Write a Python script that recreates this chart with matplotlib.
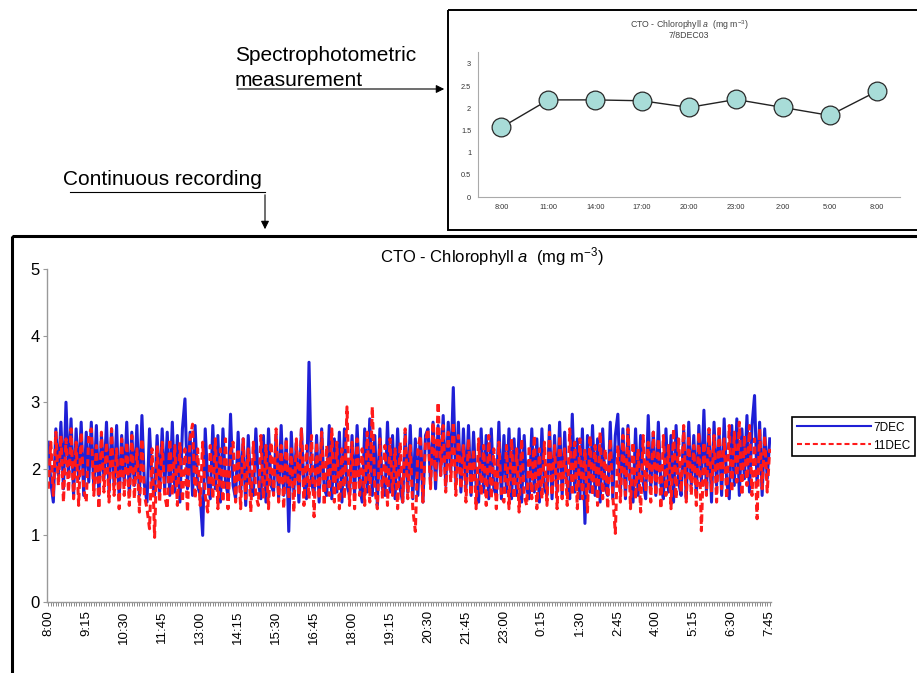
import numpy as np
import matplotlib
matplotlib.use('Agg')
import matplotlib.pyplot as plt
from matplotlib.patches import Rectangle

plt.rcParams['font.family'] = ['Liberation Sans', 'DejaVu Sans']
plt.rcParams['mathtext.fontset'] = 'custom'
plt.rcParams['mathtext.rm'] = 'Liberation Sans'
plt.rcParams['mathtext.it'] = 'Liberation Sans:italic'

# continuous recording, one value every 5 min from 8:00 to 7:45
chl_7dec = [
    2.4, 1.8, 1.5, 2.6, 1.9, 2.7, 1.7, 3.0, 1.9, 2.75, 1.6, 2.6, 1.85, 2.7, 1.6,
    2.55, 1.8, 2.7, 1.7, 2.65, 1.6, 2.5, 1.85, 2.7, 1.65, 2.6, 1.75, 2.65, 1.55, 2.5,
    1.8, 2.7, 1.6, 2.55, 1.75, 2.65, 1.6, 2.8, 1.75, 1.5, 2.6, 1.8, 1.6, 2.5, 1.65,
    2.6, 1.7, 2.55, 1.6, 2.7, 1.65, 2.5, 1.5, 2.6, 3.05, 1.7, 2.55, 1.6, 2.65, 1.75,
    1.6, 1.0, 2.6, 1.8, 1.55, 2.65, 1.7, 2.5, 1.5, 2.6, 1.8, 1.6, 2.82, 1.75, 1.55,
    2.55, 1.65, 2.45, 1.45, 2.5, 1.7, 1.6, 2.6, 1.8, 1.55, 2.5, 1.5, 2.6, 1.75, 1.65,
    2.5, 1.55, 2.65, 1.6, 2.45, 1.06, 2.55, 1.65, 2.4, 1.5, 2.6, 1.75, 1.55, 3.6, 1.8,
    1.6, 2.5, 1.5, 2.6, 1.7, 1.6, 2.65, 1.55, 2.45, 1.65, 2.55, 1.5, 2.6, 1.75, 1.6,
    2.5, 1.6, 2.65, 1.75, 1.5, 2.6, 1.65, 2.75, 1.6, 2.5, 1.45, 2.6, 1.7, 1.6, 2.7,
    1.65, 2.5, 1.55, 2.6, 1.7, 1.5, 2.55, 1.65, 2.65, 1.55, 2.45, 1.6, 2.6, 1.5, 2.5,
    2.6, 1.8, 2.7, 1.7, 2.65, 1.9, 2.8, 1.75, 2.7, 1.95, 3.22, 1.8, 2.7, 1.65, 2.6,
    1.7, 2.65, 1.6, 2.55, 1.75, 1.5, 2.6, 1.65, 2.5, 1.55, 2.6, 1.7, 1.6, 2.7, 1.55,
    2.5, 1.65, 2.6, 1.55, 2.45, 1.6, 2.6, 1.5, 2.5, 1.7, 1.55, 2.6, 1.65, 2.45, 1.5,
    2.6, 1.7, 1.6, 2.65, 1.55, 2.5, 1.65, 2.7, 1.6, 2.55, 1.75, 1.55, 2.82, 1.65, 2.45,
    1.55, 2.6, 1.18, 2.5, 1.65, 2.65, 1.6, 2.45, 1.5, 2.6, 1.7, 1.6, 2.7, 1.55, 2.5,
    2.82, 1.65, 2.6, 1.55, 2.65, 1.75, 1.5, 2.6, 1.6, 2.5, 1.8, 1.55, 2.8, 1.7, 2.55,
    1.6, 2.7, 1.75, 1.55, 2.6, 1.65, 2.5, 1.5, 2.65, 1.8, 1.6, 2.6, 1.55, 2.7, 1.75,
    2.5, 1.6, 2.65, 1.8, 2.88, 1.65, 2.6, 1.5, 2.7, 1.75, 2.55, 1.6, 2.75, 1.8, 1.55,
    2.65, 1.75, 2.75, 1.6, 2.6, 1.85, 2.8, 1.65, 2.65, 3.1, 1.75, 2.7, 1.6, 2.6, 1.85,
    2.45,
]
chl_11dec = [
    1.7, 2.4, 1.6, 2.55, 1.75, 2.5, 1.5, 2.45, 1.65, 2.6, 1.55, 2.4, 1.45, 2.55, 1.7,
    1.5, 2.5, 2.6, 1.6, 2.35, 1.4, 2.55, 1.65, 2.4, 1.5, 2.6, 1.6, 2.3, 1.4, 2.45,
    1.6, 2.4, 1.45, 2.5, 1.55, 2.3, 1.35, 2.45, 1.6, 1.4, 1.1, 2.3, 0.97, 2.35, 1.5,
    2.4, 1.6, 1.4, 2.45, 1.6, 2.35, 1.45, 2.4, 1.5, 2.3, 1.35, 2.45, 2.67, 1.55, 2.3,
    1.45, 2.4, 1.6, 1.35, 2.35, 1.55, 2.45, 1.4, 2.3, 1.5, 2.45, 1.4, 2.25, 2.4, 1.5,
    2.3, 1.4, 2.45, 1.55, 2.3, 1.35, 2.4, 1.6, 1.45, 2.5, 1.55, 2.35, 1.4, 2.4, 1.6,
    2.6, 1.5, 2.35, 1.4, 2.45, 1.55, 2.3, 1.35, 2.45, 1.6, 2.6, 1.45, 2.35, 1.55, 2.5,
    1.28, 2.4, 1.55, 2.55, 1.45, 2.35, 1.6, 2.6, 1.5, 2.4, 1.4, 2.3, 1.55, 2.93, 1.45,
    2.4, 1.4, 2.45, 1.6, 2.3, 1.45, 2.55, 1.5, 2.93, 1.7, 1.4, 2.45, 1.55, 2.35, 1.45,
    2.45, 1.6, 2.3, 1.4, 2.4, 1.5, 2.6, 1.55, 2.35, 1.4, 1.06, 2.3, 2.5, 1.5, 2.4,
    2.6, 1.7, 2.7, 1.8, 3.0, 1.9, 2.65, 1.65, 2.55, 1.8, 2.7, 1.6, 2.5, 1.7, 2.35,
    1.5, 2.45, 1.6, 2.3, 1.4, 2.45, 1.6, 2.35, 1.45, 2.5, 1.55, 2.3, 1.4, 2.4, 1.6,
    1.5, 2.35, 1.4, 2.45, 1.55, 2.3, 1.35, 2.45, 1.6, 1.45, 2.35, 1.55, 2.5, 1.4, 2.3,
    1.55, 2.4, 1.45, 2.55, 1.6, 2.35, 1.4, 2.5, 1.55, 2.3, 1.45, 2.6, 1.6, 2.4, 1.4,
    2.45, 1.55, 2.3, 1.35, 2.5, 1.6, 2.35, 1.45, 2.55, 1.55, 2.3, 1.4, 2.45, 1.6, 1.03,
    2.35, 1.5, 2.5, 1.6, 2.6, 1.4, 2.4, 1.55, 2.3, 1.35, 2.5, 1.65, 2.4, 1.5, 2.55,
    1.6, 2.45, 1.4, 2.5, 1.6, 2.35, 1.4, 2.6, 1.55, 2.45, 1.65, 2.65, 1.5, 2.5, 1.6,
    2.35, 1.45, 2.55, 1.07, 2.4, 1.6, 2.6, 1.65, 2.5, 1.5, 2.65, 1.7, 2.45, 1.55, 2.65,
    1.65, 2.55, 1.8, 2.7, 1.6, 2.5, 1.75, 2.65, 1.6, 2.45, 1.25, 2.6, 1.7, 2.5, 1.65,
    2.3,
]
time_labels = ['8:00', '9:15', '10:30', '11:45', '13:00', '14:15', '15:30', '16:45',
               '18:00', '19:15', '20:30', '21:45', '23:00', '0:15', '1:30', '2:45',
               '4:00', '5:15', '6:30', '7:45']
label_step = 15

# spectrophotometric samples 7/8 DEC 03
spec_times = ['8:00', '11:00', '14:00', '17:00', '20:00', '23:00', '2:00', '5:00', '8:00']
spec_chl = [1.57, 2.19, 2.19, 2.17, 2.02, 2.2, 2.02, 1.84, 2.38]

W, H = 917, 673
fig = plt.figure(figsize=(W / 100, H / 100), dpi=100)


def px_axes(x0, y0, x1, y1):
    return fig.add_axes([x0 / W, 1 - y1 / H, (x1 - x0) / W, (y1 - y0) / H])


# overlay in pixel coords for frames, arrows and captions
ov = fig.add_axes([0, 0, 1, 1])
ov.set_xlim(0, W)
ov.set_ylim(H, 0)
ov.axis('off')
ov.add_patch(Rectangle((448, 10), 480, 220, fill=False, lw=1.4, ec='black'))
ov.add_patch(Rectangle((12, 236), 920, 450, fill=False, lw=2.2, ec='black'))
ov.text(235, 61, 'Spectrophotometric', fontsize=15)
ov.text(235, 86, 'measurement', fontsize=15)
ov.annotate('', xy=(447, 89), xytext=(235, 89),
            arrowprops=dict(arrowstyle='-|>', color='black', lw=0.8, mutation_scale=12))
ov.text(63, 185, 'Continuous recording', fontsize=15)
ov.plot([70, 265], [192, 192], color='black', lw=0.8)
ov.annotate('', xy=(265, 232), xytext=(265, 192),
            arrowprops=dict(arrowstyle='-|>', color='black', lw=0.8, mutation_scale=12))
ov.text(492, 257, 'CTO - Chlorophyll $\\it{a}$  (mg m$^{-3}$)', fontsize=12,
        ha='center', va='center')
ov.text(689, 25, 'CTO - Chlorophyll $\\it{a}$  (mg m$^{-3}$)', fontsize=6.3,
        ha='center', va='center', color='#444444')
ov.text(689, 35, '7/8DEC03', fontsize=6.3, ha='center', va='center', color='#444444')

# main continuous chart
ax = px_axes(47, 269, 771, 602)
x = np.arange(len(chl_7dec))
ax.plot(x, chl_7dec, color='#1f1fd6', lw=2.2, label='7DEC')
ax.plot(np.arange(len(chl_11dec)), chl_11dec, color='#ff1a1a', lw=2.2,
        dashes=(2.4, 1.4), label='11DEC')
ax.set_xlim(-0.5, len(chl_7dec) - 0.5)
ax.set_ylim(0, 5)
ax.set_yticks(range(6))
ax.tick_params(axis='y', labelsize=12, length=3, color='#999999', pad=2)
ax.set_xticks(x, minor=True)
ax.set_xticks([i * label_step for i in range(len(time_labels))])
ax.set_xticklabels(time_labels, rotation=90, fontsize=9.5)
ax.tick_params(axis='x', which='both', length=3, width=0.6, color='#777777')
ax.tick_params(axis='x', which='major', pad=3)
for s in ['top', 'right']:
    ax.spines[s].set_visible(False)
for s in ['left', 'bottom']:
    ax.spines[s].set_color('#999999')
    ax.spines[s].set_linewidth(1.0)

handles, labels = ax.get_legend_handles_labels()
leg = fig.legend(handles, labels, loc='upper left',
                 bbox_to_anchor=(786 / W, 1 - 411 / H), fontsize=8.5,
                 handlelength=6.3, handletextpad=0.2, borderpad=0.4,
                 labelspacing=0.5, fancybox=False, framealpha=1)
for line in leg.get_lines():
    line.set_linewidth(1.5)
leg.get_frame().set_edgecolor('black')
leg.get_frame().set_linewidth(1.2)

# inset spectrophotometric chart
ins = px_axes(478, 52, 900, 197)
xs = np.arange(len(spec_chl))
ins.plot(xs, spec_chl, color='#222222', lw=1.0, marker='o', markersize=13.5,
         markerfacecolor='#a8dcd8', markeredgecolor='#2a2a2a', markeredgewidth=0.9)
ins.set_xlim(-0.5, len(spec_chl) - 0.5)
ins.set_ylim(0, 3.27)
ins.set_yticks([0, 0.5, 1, 1.5, 2, 2.5, 3])
ins.set_yticklabels(['0', '0.5', '1', '1.5', '2', '2.5', '3'])
ins.set_xticks(xs)
ins.set_xticklabels(spec_times)
ins.tick_params(labelsize=5.3, length=0, pad=5, labelcolor='#333333')
for s in ['top', 'right']:
    ins.spines[s].set_visible(False)
for s in ['left', 'bottom']:
    ins.spines[s].set_color('#aaaaaa')
    ins.spines[s].set_linewidth(0.8)

fig.savefig('out.png', dpi=100)
